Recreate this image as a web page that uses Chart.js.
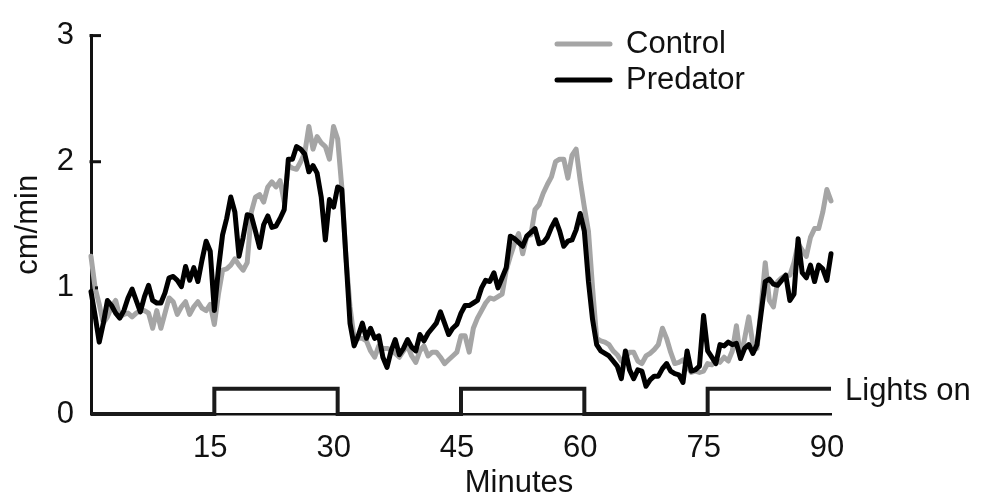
<!DOCTYPE html>
<html>
<head>
<meta charset="utf-8">
<title>Activity: Control vs Predator</title>
<script src="https://cdn.jsdelivr.net/npm/chart.js@4.4.1/dist/chart.umd.min.js"></script>
<style>
  html, body { margin: 0; padding: 0; background: #fff; }
  #wrap { width: 989px; height: 496px; }
</style>
</head>
<body>
<div id="wrap"><canvas id="activityChart" width="989" height="496"></canvas></div>
<script>
// Samples every half minute, 0 to 90 min
const sampleStep = 0.5;

// cm/min, predator trace (black)
const predator = [
  0.97, 0.78, 0.57, 0.72, 0.9, 0.86, 0.8, 0.76, 0.82, 0.92,
  0.99, 0.9, 0.81, 0.93, 1.02, 0.9, 0.88, 0.88, 0.96, 1.08,
  1.09, 1.06, 1.01, 1.17, 1.06, 1.16, 1.05, 1.22, 1.37, 1.29,
  0.82, 1.15, 1.42, 1.55, 1.72, 1.6, 1.25, 1.4, 1.58, 1.57,
  1.45, 1.32, 1.5, 1.57, 1.48, 1.49, 1.55, 1.62, 2.02, 2.02,
  2.12, 2.1, 2.06, 1.92, 1.97, 1.91, 1.72, 1.38, 1.7, 1.64,
  1.8, 1.78, 1.25, 0.72, 0.54, 0.62, 0.72, 0.6, 0.68, 0.6,
  0.62, 0.45, 0.37, 0.5, 0.59, 0.47, 0.52, 0.59, 0.53, 0.5,
  0.63, 0.58, 0.64, 0.68, 0.72, 0.81, 0.72, 0.63, 0.68, 0.71,
  0.8, 0.86, 0.86, 0.88, 0.9, 1.0, 1.06, 1.05, 1.12, 1.0,
  1.08, 1.16, 1.41, 1.39, 1.36, 1.33, 1.41, 1.44, 1.47, 1.35,
  1.36, 1.4, 1.48, 1.54, 1.45, 1.33, 1.37, 1.38, 1.46, 1.59,
  1.45, 1.05, 0.75, 0.55, 0.5, 0.48, 0.46, 0.42, 0.38, 0.28,
  0.5, 0.35, 0.28, 0.35, 0.34, 0.22, 0.27, 0.3, 0.3, 0.36,
  0.4, 0.34, 0.32, 0.31, 0.25, 0.5, 0.34, 0.35, 0.38, 0.78,
  0.5, 0.45, 0.4, 0.55, 0.54, 0.57, 0.55, 0.56, 0.44, 0.52,
  0.55, 0.48, 0.55, 0.8, 1.05, 1.07, 1.03, 1.02, 1.06, 1.1,
  0.9, 0.95, 1.39, 1.12, 1.08, 1.18, 1.05, 1.18, 1.15, 1.06,
  1.27
];

// cm/min, control trace (grey)
const control = [
  1.25, 1.0, 0.87, 0.72, 0.77, 0.85, 0.9, 0.77, 0.79, 0.8,
  0.77, 0.8, 0.82, 0.82, 0.8, 0.68, 0.82, 0.68, 0.8, 0.92,
  0.89, 0.79, 0.85, 0.89, 0.79, 0.85, 0.89, 0.84, 0.82, 0.87,
  0.71, 0.95, 1.14, 1.15, 1.18, 1.23, 1.18, 1.14, 1.2, 1.6,
  1.72, 1.74, 1.68, 1.8, 1.84, 1.8, 1.85, 1.68, 1.97, 1.95,
  1.94, 2.0, 2.07, 2.28, 2.1, 2.2, 2.15, 2.12, 2.02, 2.28,
  2.18, 1.8, 1.25, 0.85, 0.6, 0.6, 0.6, 0.58, 0.5, 0.45,
  0.54, 0.52, 0.52, 0.51, 0.48, 0.45, 0.5, 0.54, 0.46, 0.41,
  0.5, 0.54, 0.46, 0.49, 0.49, 0.45, 0.4, 0.43, 0.46, 0.49,
  0.62, 0.62, 0.49, 0.68, 0.76, 0.82, 0.88, 0.92, 0.91, 0.93,
  0.95, 1.14, 1.25, 1.35, 1.43, 1.27, 1.41, 1.42, 1.62, 1.66,
  1.75, 1.82, 1.88, 2.0, 2.02, 2.02, 1.87, 2.05, 2.1, 1.85,
  1.64, 1.45, 1.0, 0.6, 0.58, 0.57, 0.55, 0.5, 0.47, 0.42,
  0.45, 0.49, 0.49, 0.42, 0.4, 0.46, 0.48, 0.51, 0.55, 0.68,
  0.6, 0.49, 0.4, 0.41, 0.43, 0.38, 0.33, 0.34, 0.33, 0.34,
  0.4, 0.39, 0.43, 0.41, 0.45, 0.42, 0.5, 0.7, 0.44, 0.6,
  0.77, 0.55, 0.52, 0.85, 1.2, 0.9, 0.85, 1.05, 1.08, 1.1,
  1.1, 1.2, 1.35, 1.3, 1.25, 1.4, 1.47, 1.47, 1.6, 1.78,
  1.69
];

// Light cycle trace (step between 0 and 0.2)
const lightsMinutes = [0, 15, 15, 30, 30, 45, 45, 60, 60, 75, 75, 90];
const lightsLevel = [0, 0, 0.2, 0.2, 0, 0, 0.2, 0.2, 0, 0, 0.2, 0.2];

// Axis ticks
const xTickValues = [15, 30, 45, 60, 75, 90];
const yTickValues = [0, 1, 2, 3];

const FONT = "'Liberation Sans', Arial, Helvetica, sans-serif";
const INK = "#111111";
const GREY = "#a5a5a5";

function toPoints(values) {
  return values.map((v, i) => ({ x: i * sampleStep, y: v }));
}

// Inward ticks on the y axis, text labels and legend
const decorations = {
  id: "decorations",
  afterDraw(chart) {
    const ctx = chart.ctx;
    const yScale = chart.scales.y;
    const left = chart.chartArea.left;

    ctx.save();
    ctx.strokeStyle = INK;
    ctx.lineWidth = 3;
    ctx.lineCap = "butt";
    [3, 2].forEach((v) => {
      const y = yScale.getPixelForValue(v);
      ctx.beginPath();
      ctx.moveTo(left - 1.5, y);
      ctx.lineTo(left + 10, y);
      ctx.stroke();
    });
    // tiny mark at 1
    const y1 = yScale.getPixelForValue(1);
    ctx.fillStyle = INK;
    ctx.fillRect(left + 4, y1 - 1.5, 3, 3);

    ctx.font = "31px " + FONT;

    // y title
    ctx.save();
    ctx.translate(37, (chart.chartArea.top + chart.chartArea.bottom) / 2);
    ctx.rotate(-Math.PI / 2);
    ctx.textAlign = "center";
    ctx.textBaseline = "alphabetic";
    ctx.fillText("cm/min", 0, 0);
    ctx.restore();

    // x title
    ctx.textAlign = "center";
    ctx.textBaseline = "alphabetic";
    ctx.fillText("Minutes", 519, 492);

    // light cycle label
    ctx.textAlign = "left";
    ctx.fillText("Lights on", 845, 400);

    // legend
    const legendItems = [
      { label: "Control", color: GREY, y: 44 },
      { label: "Predator", color: "#000000", y: 80 }
    ];
    legendItems.forEach((item) => {
      ctx.strokeStyle = item.color;
      ctx.lineWidth = 5;
      ctx.lineCap = "round";
      ctx.beginPath();
      ctx.moveTo(557, item.y);
      ctx.lineTo(610, item.y);
      ctx.stroke();
      ctx.fillStyle = INK;
      ctx.textBaseline = "middle";
      ctx.fillText(item.label, 626, item.y);
    });
    ctx.restore();
  }
};

const ctx = document.getElementById("activityChart");

new Chart(ctx, {
  type: "line",
  data: {
    datasets: [
      {
        label: "Predator",
        data: toPoints(predator),
        borderColor: "#000000",
        borderWidth: 5,
        order: 0
      },
      {
        label: "Control",
        data: toPoints(control),
        borderColor: GREY,
        borderWidth: 5,
        order: 1
      },
      {
        label: "Lights on",
        data: lightsMinutes.map((m, i) => ({ x: m, y: lightsLevel[i] })),
        borderColor: "#1a1a1a",
        borderWidth: 4,
        borderJoinStyle: "miter",
        borderCapStyle: "butt",
        order: 2
      }
    ]
  },
  options: {
    responsive: false,
    animation: false,
    devicePixelRatio: 1,
    layout: { padding: { left: 0, right: 158, top: 24, bottom: 0 } },
    elements: {
      point: { radius: 0, hoverRadius: 0 },
      line: { tension: 0, borderJoinStyle: "round", borderCapStyle: "round", fill: false }
    },
    datasets: { line: { clip: false } },
    plugins: {
      legend: { display: false },
      tooltip: { enabled: false }
    },
    scales: {
      x: {
        type: "linear",
        min: 0,
        max: 90,
        afterFit(scale) { scale.height = 82; },
        afterBuildTicks(scale) { scale.ticks = xTickValues.map((v) => ({ value: v })); },
        grid: { display: true, drawOnChartArea: false, drawTicks: false },
        border: { display: true, color: INK, width: 2.5 },
        ticks: {
          padding: 16,
          labelOffset: -4,
          maxRotation: 0,
          autoSkip: false,
          color: INK,
          font: { family: FONT, size: 31 }
        }
      },
      y: {
        min: 0,
        max: 3,
        afterFit(scale) { scale.width = 91; },
        afterBuildTicks(scale) { scale.ticks = yTickValues.map((v) => ({ value: v })); },
        grid: { display: true, drawOnChartArea: false, drawTicks: false },
        border: { display: true, color: INK, width: 3 },
        ticks: {
          padding: 17,
          color: INK,
          font: { family: FONT, size: 31 }
        }
      }
    }
  },
  plugins: [decorations]
});
</script>
</body>
</html>
